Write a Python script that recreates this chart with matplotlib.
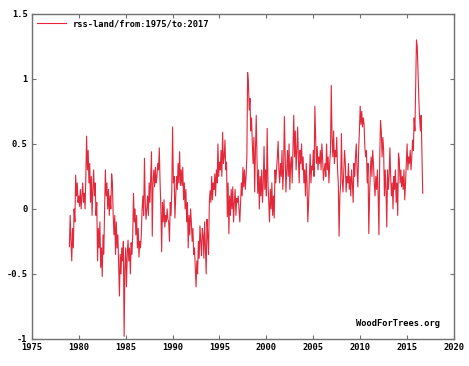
import numpy as np
import matplotlib
matplotlib.use("Agg")
import matplotlib.pyplot as plt

# RSS land monthly anomaly (one row per year, Jan..Dec)
START_YEAR = 1979
anomaly = [
    -0.29, -0.05, -0.25, -0.40, -0.15, -0.30, 0.00, -0.10, 0.26, 0.10, 0.20, 0.05,    # 1979
    0.10, 0.02, 0.15, 0.00, 0.10, 0.20, 0.05, 0.12, 0.00, 0.25, 0.56, 0.30,           # 1980
    0.45, 0.20, 0.35, 0.05, 0.25, -0.05, 0.15, 0.30, 0.10, 0.20, -0.05, 0.05,         # 1981
    -0.40, -0.15, -0.30, -0.10, -0.45, -0.30, -0.52, -0.20, -0.35, 0.00, 0.30, 0.10,  # 1982
    0.20, 0.00, 0.15, -0.05, 0.10, 0.00, 0.27, 0.20, -0.05, -0.20, -0.05, -0.35,      # 1983
    -0.10, -0.30, -0.20, -0.45, -0.67, -0.35, -0.50, -0.30, -0.40, -0.25, -0.98, -0.45, # 1984
    -0.30, -0.60, -0.35, -0.24, -0.40, -0.30, -0.50, -0.26, -0.35, -0.20, 0.12, -0.10,  # 1985
    0.00, -0.20, -0.05, -0.30, -0.15, -0.37, -0.25, -0.30, -0.20, 0.00, 0.10, -0.05,    # 1986
    0.39, 0.05, -0.08, 0.00, 0.10, -0.05, 0.20, 0.05, 0.25, 0.44, -0.21, 0.20,        # 1987
    0.30, 0.17, 0.32, 0.20, 0.25, 0.35, 0.30, 0.47, 0.20, 0.00, -0.33, 0.05,          # 1988
    -0.10, 0.07, -0.14, -0.05, -0.10, 0.00, -0.08, -0.10, -0.25, 0.05, -0.05, 0.15,   # 1989
    0.63, 0.20, 0.25, -0.07, 0.10, 0.25, 0.15, 0.35, 0.20, 0.44, 0.18, 0.30,          # 1990
    0.18, 0.32, 0.07, 0.20, 0.00, 0.15, -0.10, 0.05, -0.30, -0.05, -0.20, 0.00,       # 1991
    -0.10, -0.25, -0.15, -0.35, -0.30, -0.45, -0.60, -0.40, -0.50, -0.25, -0.38, -0.13, # 1992
    -0.25, -0.36, -0.15, -0.20, -0.38, -0.10, -0.30, -0.50, -0.08, -0.20, -0.35, 0.05,  # 1993
    0.14, 0.05, 0.25, 0.07, 0.20, 0.15, 0.27, 0.10, 0.30, 0.20, 0.50, 0.25,           # 1994
    0.36, 0.30, 0.45, 0.25, 0.59, 0.35, 0.40, 0.53, 0.30, 0.36, -0.06, 0.20,          # 1995
    -0.19, 0.10, -0.05, 0.15, 0.00, 0.17, -0.10, 0.05, 0.15, -0.05, 0.08, 0.05,       # 1996
    0.10, 0.00, -0.10, 0.05, 0.20, 0.10, 0.32, 0.17, 0.30, 0.15, 0.25, 0.40,          # 1997
    1.05, 0.97, 0.76, 0.85, 0.60, 0.70, 0.50, 0.35, 0.55, 0.13, 0.45, 0.72,           # 1998
    0.38, 0.12, 0.30, 0.00, 0.25, 0.10, 0.30, 0.05, 0.20, 0.48, 0.15, 0.30,           # 1999
    0.10, 0.62, 0.20, 0.05, -0.10, 0.15, 0.00, 0.20, -0.05, 0.10, -0.07, 0.30,        # 2000
    0.20, 0.30, 0.40, 0.52, 0.30, 0.20, 0.35, 0.25, 0.45, 0.15, 0.30, 0.71,           # 2001
    0.40, 0.13, 0.30, 0.45, 0.25, 0.50, 0.15, 0.35, 0.40, 0.20, 0.45, 0.72,           # 2002
    0.40, 0.60, 0.30, 0.45, 0.63, 0.38, 0.20, 0.45, 0.35, 0.50, 0.30, 0.40,           # 2003
    0.20, 0.30, 0.10, 0.35, 0.20, -0.10, 0.05, 0.25, 0.42, 0.20, 0.33, 0.30,          # 2004
    0.45, 0.25, 0.79, 0.55, 0.35, 0.48, 0.30, 0.40, 0.35, 0.45, 0.30, 0.50,           # 2005
    0.38, 0.22, 0.30, 0.35, 0.25, 0.50, 0.30, 0.40, 0.20, 0.35, 0.45, 0.95,           # 2006
    0.55, 0.40, 0.60, 0.35, 0.45, 0.40, 0.55, 0.30, 0.20, -0.21, 0.10, 0.20,          # 2007
    0.58, 0.23, 0.13, 0.30, 0.45, 0.35, 0.13, 0.25, 0.20, 0.35, 0.15, 0.25,           # 2008
    0.10, 0.30, 0.20, 0.05, 0.35, 0.25, 0.40, 0.50, 0.30, 0.17, 0.45, 0.60,           # 2009
    0.79, 0.65, 0.75, 0.63, 0.70, 0.65, 0.47, 0.40, 0.45, 0.20, 0.35, -0.19,          # 2010
    0.10, 0.30, 0.40, 0.25, 0.45, 0.35, 0.20, 0.10, 0.25, 0.15, 0.30, 0.10,           # 2011
    -0.20, 0.40, 0.68, 0.60, 0.40, 0.55, 0.45, 0.10, 0.30, 0.15, -0.14, 0.30,         # 2012
    0.15, 0.25, 0.47, 0.25, 0.10, 0.20, 0.00, 0.25, 0.15, 0.30, 0.05, 0.20,           # 2013
    -0.05, 0.43, 0.38, 0.20, 0.30, 0.17, 0.25, 0.15, 0.30, 0.07, 0.20, 0.35,          # 2014
    0.50, 0.30, 0.40, 0.35, 0.45, 0.30, 0.40, 0.53, 0.45, 0.70, 0.60, 0.95,           # 2015
    1.30, 1.25, 1.05, 0.85, 0.70, 0.60, 0.72, 0.40, 0.12,                             # 2016
]

x_ticks = [1975, 1980, 1985, 1990, 1995, 2000, 2005, 2010, 2015, 2020]
y_ticks = [-1, -0.5, 0, 0.5, 1, 1.5]
y_labels = ["-1", "-0.5", "0", "0.5", "1", "1.5"]

LINE_COLOR = "#e2283a"
FRAME_COLOR = "#707070"
font = {"family": "DejaVu Sans Mono", "weight": "bold", "size": 6.3}

dates = START_YEAR + np.arange(len(anomaly)) / 12

fig = plt.figure(figsize=(4.69, 3.66), dpi=100)
ax = fig.add_axes([0.068, 0.074, 0.9, 0.888])

ax.plot(dates, anomaly, color=LINE_COLOR, lw=0.8, label="rss-land/from:1975/to:2017")

ax.set_xlim(1975, 2020)
ax.set_ylim(-1, 1.5)
ax.set_xticks(x_ticks)
ax.set_yticks(y_ticks)
ax.set_xticklabels([str(t) for t in x_ticks], fontdict=font)
ax.set_yticklabels(y_labels, fontdict=font)

for side in ax.spines.values():
    side.set_color(FRAME_COLOR)
    side.set_linewidth(1.0)
ax.tick_params(direction="in", top=True, right=True, length=3, width=0.8,
               color=FRAME_COLOR, pad=3)

ax.legend(loc="upper left", frameon=False, prop=font, handlelength=3.3,
          borderaxespad=0.2, handletextpad=0.8)

ax.text(0.967, 0.046, "WoodForTrees.org", transform=ax.transAxes,
        ha="right", va="center", fontdict=font)

fig.savefig("out.png", dpi=100)
